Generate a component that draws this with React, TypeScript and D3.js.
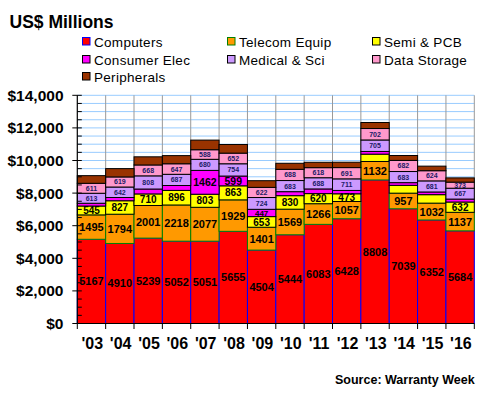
import React from "react";
import * as d3 from "d3";

const years = ["'03", "'04", "'05", "'06", "'07", "'08", "'09", "'10", "'11", "'12", "'13", "'14", "'15", "'16"];
const computers = [5167, 4910, 5239, 5052, 5051, 5655, 4504, 5444, 6083, 6428, 8808, 7039, 6352, 5684];
const telecom = [1495, 1794, 2001, 2218, 2077, 1929, 1401, 1569, 1266, 1057, 1132, 957, 1032, 1137];
const semi = [545, 827, 710, 896, 803, 863, 653, 830, 620, 473, 450, 480, 520, 632];
const consumer = [170, 200, 300, 300, 1462, 599, 447, 245, 286, 205, 165, 165, 165, 180];
const medical = [613, 642, 808, 687, 680, 754, 724, 683, 688, 711, 705, 683, 681, 667];
const dataStorage = [611, 619, 668, 647, 588, 652, 622, 688, 618, 691, 702, 682, 624, 373];
const peripherals = [470, 510, 500, 500, 590, 530, 410, 370, 330, 330, 370, 300, 280, 260];

// which values carry a printed label
const semiLabelled = [true, true, true, true, true, true, true, true, true, true, false, false, false, true];
const consumerLabelled = [false, false, false, false, true, true, true, false, false, false, false, false, false, false];

const yTicks = [0, 2000, 4000, 6000, 8000, 10000, 12000, 14000];

const FONT = "Arial, 'Liberation Sans', sans-serif";

type Series = {
  name: string;
  values: number[];
  fill: string;
  stroke: string;
  labelSize: number;
  labelColor: string;
  labelled: boolean[] | null;
};

const series: Series[] = [
  { name: "Computers", values: computers, fill: "#ff0000", stroke: "#0000ff", labelSize: 11, labelColor: "#000", labelled: null },
  { name: "Telecom Equip", values: telecom, fill: "#ff9900", stroke: "#008000", labelSize: 11, labelColor: "#000", labelled: null },
  { name: "Semi & PCB", values: semi, fill: "#ffff00", stroke: "#000000", labelSize: 10, labelColor: "#000", labelled: semiLabelled },
  { name: "Consumer Elec", values: consumer, fill: "#ff00ff", stroke: "#000000", labelSize: 10.5, labelColor: "#000", labelled: consumerLabelled },
  { name: "Medical & Sci", values: medical, fill: "#cc99ff", stroke: "#000000", labelSize: 7, labelColor: "#1a1a66", labelled: null },
  { name: "Data Storage", values: dataStorage, fill: "#ff99cc", stroke: "#000000", labelSize: 7, labelColor: "#1a1a66", labelled: null },
  { name: "Peripherals", values: peripherals, fill: "#993300", stroke: "#000000", labelSize: 0, labelColor: "#000", labelled: years.map(() => false) },
];

const legendPos = [
  [82, 42], [227, 42], [372, 42],
  [82, 60], [227, 60], [372, 60],
  [82, 77],
];

export default function App() {
  const left = 77.3, right = 474.3, top = 95.3, bottom = 323.5;
  const x = d3.scaleBand<string>().domain(years).range([left, right]).padding(0);
  const y = d3.scaleLinear().domain([0, 14000]).range([bottom, top]);

  const table = years.map((yr, i) => {
    const row: any = { year: yr };
    series.forEach((s) => (row[s.name] = s.values[i]));
    return row;
  });
  const stacked = d3.stack<any>().keys(series.map((s) => s.name))(table);

  const gridVals = d3.range(0, 14001, 500);
  const bounds = years.map((yr) => x(yr)!).concat([right]);

  return (
    <svg width={480} height={400} style={{ position: "absolute", left: 0, top: 0, background: "#fff" }} fontFamily={FONT}>
      <text x={9.5} y={28} fontSize={17.5} fontWeight="bold">US$ Millions</text>
      {series.map((s, i) => (
        <g key={s.name} transform={`translate(${legendPos[i][0]},${legendPos[i][1]})`}>
          <rect x={0.5} y={-4.5} width={7.5} height={7.5} fill={s.fill} stroke={s.stroke} strokeWidth={1} />
          <text x={12} y={4.5} fontSize={13.5} letterSpacing={0.3}>{s.name}</text>
        </g>
      ))}

      {/* horizontal gridlines */}
      {gridVals.map((v) => (
        <line key={v} x1={left} x2={right} y1={y(v)} y2={y(v)} stroke="#99ccff" strokeWidth={1} />
      ))}
      {/* vertical gridlines */}
      {bounds.slice(1).map((bx, i) => (
        <line key={i} x1={bx} x2={bx} y1={top} y2={bottom} stroke="#999999" strokeWidth={1} />
      ))}

      {/* bars */}
      {stacked.map((layer, si) => {
        const s = series[si];
        return (
          <g key={s.name}>
            {layer.map((d, i) => (
              <rect
                key={i}
                x={x(years[i])!}
                y={y(d[1])}
                width={x.bandwidth()}
                height={y(d[0]) - y(d[1])}
                fill={s.fill}
                stroke={s.stroke}
                strokeWidth={1}
              />
            ))}
          </g>
        );
      })}

      {/* labels */}
      {stacked.map((layer, si) => {
        const s = series[si];
        return (
          <g key={s.name + "l"}>
            {layer.map((d, i) => {
              if (s.labelled && !s.labelled[i]) return null;
              let fs = s.labelSize;
              if (s.name === "Consumer Elec" && s.values[i] < 500) fs = 8;
              return (
                <text
                  key={i}
                  x={x(years[i])! + x.bandwidth() / 2}
                  y={(y(d[0]) + y(d[1])) / 2}
                  dy="0.36em"
                  textAnchor="middle"
                  fontSize={fs}
                  fontWeight="bold"
                  fill={s.labelColor}
                >
                  {s.values[i]}
                </text>
              );
            })}
          </g>
        );
      })}

      {/* axes */}
      <line x1={left} x2={left} y1={top} y2={bottom} stroke="#000" strokeWidth={1.2} />
      <line x1={left} x2={right} y1={bottom} y2={bottom} stroke="#000" strokeWidth={1.2} />
      {gridVals.map((v) => (
        v % 2000 === 0 ? (
          <line key={"t" + v} x1={left - 5} x2={left + 4.5} y1={y(v)} y2={y(v)} stroke="#000" />
        ) : (
          <line key={"t" + v} x1={left} x2={left + 4.5} y1={y(v)} y2={y(v)} stroke="#000" />
        )
      ))}
      {yTicks.map((v) => (
        <text key={"l" + v} x={63.5} y={y(v)} dy="0.36em" textAnchor="end" fontSize={15.5} fontWeight="bold">
          {d3.format("$,")(v)}
        </text>
      ))}
      {bounds.map((bx, i) => (
        <line key={"xt" + i} x1={bx} x2={bx} y1={bottom} y2={bottom + 5.5} stroke="#000" />
      ))}
      {years.map((yr) => (
        <text key={yr} x={x(yr)! + x.bandwidth() / 2 + 0.8} y={349} textAnchor="middle" fontSize={16} fontWeight="bold">
          {yr}
        </text>
      ))}
      <text x={335} y={384} fontSize={12.5} fontWeight="bold">Source: Warranty Week</text>
    </svg>
  );
}
